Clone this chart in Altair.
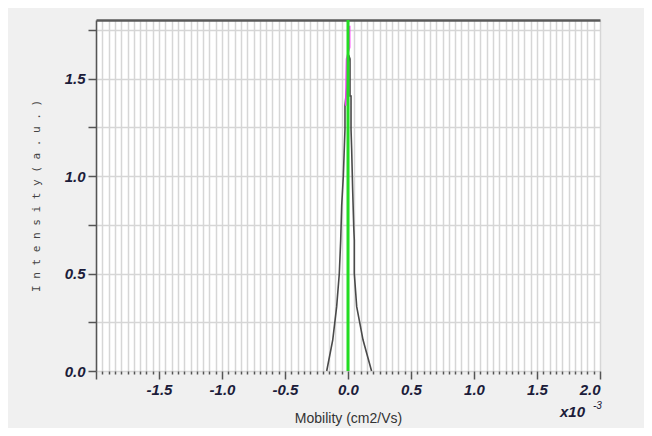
import altair as alt
import pandas as pd

# Mobility in units of 1e-3 cm2/Vs
black_x = [-0.169, -0.121, -0.09, -0.069, -0.058, -0.05, -0.037, -0.024, -0.024, -0.01, 0.005,
           0.016, 0.016, 0.024, 0.024, 0.029, 0.037, 0.046, 0.05, 0.05, 0.069, 0.119, 0.187]
black_y = [0.0, 0.16, 0.33, 0.5, 0.67, 0.85, 1.0, 1.24, 1.36, 1.45, 1.62,
           1.60, 1.41, 1.41, 1.24, 1.14, 0.93, 0.73, 0.67, 0.5, 0.33, 0.16, 0.0]
magenta_x = [-0.017, -0.015, -0.012, 0.0, 0.013, 0.013]
magenta_y = [1.36, 1.50, 1.60, 1.63, 1.66, 1.77]
green_x = [0.0]
green_y0 = [0.0]
green_y1 = [1.8]

x_label_values = [-1.5, -1.0, -0.5, 0.0, 0.5, 1.0, 1.5, 2.0]
y_label_values = [0.0, 0.5, 1.0, 1.5]

x_grid = [round(-2.0 + 0.05 * i, 2) for i in range(81)]
y_grid = [round(0.25 * i, 2) for i in range(8)]

df = pd.DataFrame({
    "x": black_x + magenta_x,
    "y": black_y + magenta_y,
    "series": ["black"] * len(black_x) + ["magenta"] * len(magenta_x),
    "order": list(range(len(black_x))) + list(range(len(magenta_x))),
})
green = pd.DataFrame({"x": green_x, "y0": green_y0, "y1": green_y1})

xscale = alt.Scale(domain=[-2.0, 2.0], nice=False, zero=False)
yscale = alt.Scale(domain=[0.0, 1.8], nice=False, zero=False)

label_font = "Liberation Sans"
label_color = "#1c1c3a"

x_axis = alt.Axis(
    values=x_grid,
    labelExpr="abs(datum.value*2 - round(datum.value*2)) < 0.001 && datum.value > -1.9 ? replace(format(datum.value, '.1f'), '\u2212', '-') : ''",
    labelOverlap=False,
    labelFont=label_font, labelFontSize=15, labelFontWeight="bold", labelFontStyle="italic",
    labelColor=label_color, labelPadding=3,
    tickSize={"condition": {"test": "abs(datum.value*2 - round(datum.value*2)) < 0.001", "value": 8}, "value": 3},
    tickColor="#555555", tickWidth=1.5,
    domain=False,
    grid=True, gridColor="#d6d6d6", gridWidth=1.5,
    title="Mobility (cm2/Vs)", titleFont=label_font, titleFontSize=14, titleFontWeight="normal",
    titleColor="#333333", titlePadding=14,
)

y_axis = alt.Axis(
    values=y_grid,
    labelExpr="abs(datum.value*2 - round(datum.value*2)) < 0.001 ? format(datum.value, '.1f') : ''",
    labelOverlap=False,
    labelFont=label_font, labelFontSize=15, labelFontWeight="bold", labelFontStyle="italic",
    labelColor=label_color, labelPadding=3,
    tickSize=8, tickColor="#555555", tickWidth=1.5,
    domain=True, domainColor="#555555", domainWidth=1.5,
    grid=True, gridColor="#d6d6d6", gridWidth=1.5,
    title="I n t e n s i t y  ( a . u . )", titleFont="DejaVu Sans Mono", titleFontSize=11,
    titleFontWeight="normal", titleColor="#444444", titlePadding=23,
)

lines = alt.Chart(df).mark_line(strokeWidth=1.6).encode(
    x=alt.X("x:Q", scale=xscale, axis=x_axis),
    y=alt.Y("y:Q", scale=yscale, axis=y_axis),
    color=alt.Color("series:N", scale=alt.Scale(domain=["black", "magenta"], range=["#4a4a4a", "#ff3cff"]), legend=None),
    order="order:Q",
    detail="series:N",
)

green_rule = alt.Chart(green).mark_rule(color="#22dd22", strokeWidth=3).encode(
    x=alt.X("x:Q", scale=xscale, axis=alt.Axis(orient="top", labels=False, ticks=False, grid=False,
                                                domain=True, domainColor="#5a5a5a", domainWidth=2.5, title=None)),
    y=alt.Y("y0:Q", scale=yscale, axis=y_axis),
    y2="y1:Q",
)

ann = pd.DataFrame({"t": ["x10"]})
sup = pd.DataFrame({"t": ["-3"]})
x10 = alt.Chart(ann).mark_text(font=label_font, fontSize=15, fontWeight="bold", fontStyle="italic",
                               color=label_color, align="left", baseline="alphabetic").encode(
    text="t:N", x=alt.value(464), y=alt.value(397))
x10s = alt.Chart(sup).mark_text(font=label_font, fontSize=10, fontStyle="italic",
                                color=label_color, align="left", baseline="alphabetic").encode(
    text="t:N", x=alt.value(497), y=alt.value(389))

chart = alt.layer(lines, green_rule, x10, x10s).resolve_axis(x="independent").properties(
    width=504, height=351,
    background="#f0f0f0",
    padding={"left": 88, "top": 12, "right": 44, "bottom": 57},
    autosize=alt.AutoSizeParams(type="none"),
).configure_view(fill="white", stroke=None)

chart.save("out.html", embed_options={"renderer": "svg", "actions": False})
